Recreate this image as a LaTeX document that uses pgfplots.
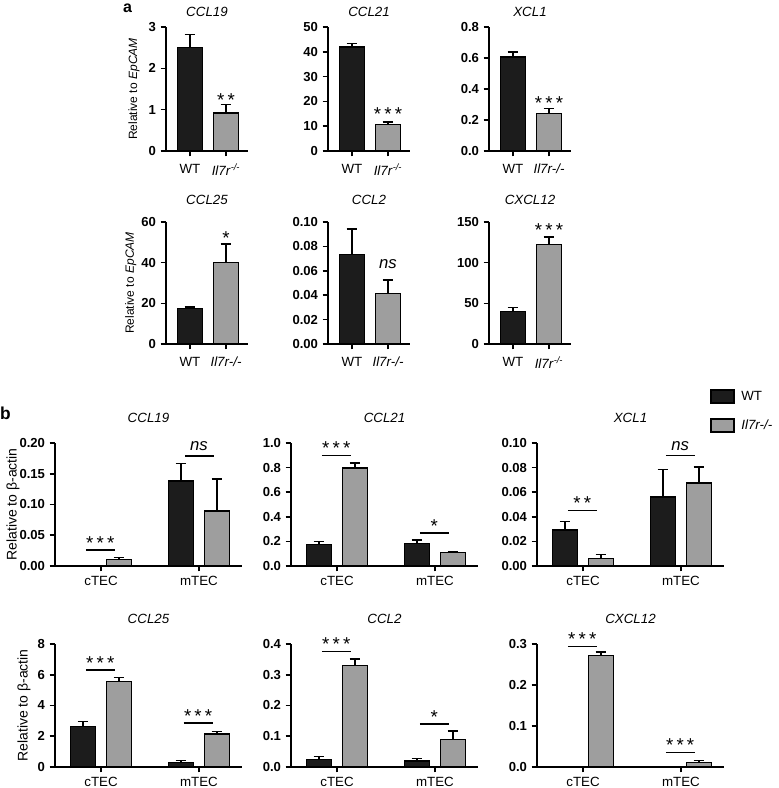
\documentclass[border=0pt]{standalone}
\usepackage{pgfplots}
\pgfplotsset{compat=1.18}
\usepackage{fontspec}
\setmainfont{Liberation Sans}
\definecolor{wtc}{RGB}{28,28,28}
\definecolor{koc}{RGB}{158,158,158}
\newcommand{\kosup}{\textit{Il7r}\textsuperscript{\textit{-/-}}}
\newcommand{\koin}{\textit{Il7r-/-}}
\newcommand{\three}{*\kern2.4pt*\kern2.4pt*}
\newcommand{\two}{*\kern2.4pt*}
\tikzset{
  wt/.style={fill=wtc, draw=black, line width=1.1pt},
  ko/.style={fill=koc, draw=black, line width=1.1pt},
  sig/.style={anchor=base, font=\fontsize{14}{14}\selectfont},
  ns/.style={anchor=base, font=\fontsize{12.5}{13}\itshape},
  sigl/.style={line width=1.1pt, black},
}
\pgfplotsset{
  base/.style={scale only axis, ymin=0, clip=false,
    axis lines*=left, axis line style={line width=1.3pt, black, -},
    tick align=outside, major tick length=4pt,
    tick style={line width=1.2pt, black},
    yticklabel style={font=\fontsize{9.8}{10}\bfseries},
    xticklabel style={font=\fontsize{10}{11}\selectfont},
    every axis title/.style={at={(0.5,1)}, anchor=center, font=\fontsize{10}{11}\itshape},
    error bars/y dir=plus, error bars/y explicit,
    error bars/error bar style={line width=1.1pt, black},
    error bars/error mark options={rotate=90, mark size=4pt, line width=1.1pt, black},
    ybar, bar width=18.75pt,
  },
  pa/.style={base, width=61.5pt, xmin=-0.667, xmax=1.611, xtick={0,1}, xticklabel style={yshift=-2.25pt}},
  pb/.style={base, width=140.25pt, height=92.25pt, xmin=-0.47, xmax=1.44, xtick={0,1}, xticklabels={cTEC,mTEC}, title style={yshift=18.75pt}},
  yla/.style={every axis y label/.style={at={(axis description cs:#1,0.5)}, rotate=90, anchor=center, font=\fontsize{9}{10}\selectfont}},
  ylb/.style={every axis y label/.style={at={(axis description cs:#1,0.5)}, rotate=90, anchor=center, font=\fontsize{10.5}{11}\selectfont}},
}
\begin{document}
\begin{tikzpicture}
\path[use as bounding box] (0,0) rectangle (583.5pt,591pt);
\node[font=\fontsize{12}{12}\bfseries, anchor=base, inner sep=0pt] at (95.6pt,581.25pt) {a};
\node[font=\fontsize{13}{13}\bfseries, anchor=base, inner sep=0pt] at (4.1pt,276pt) {b};

% ---------- panel a, row 1
\begin{axis}[pa, at={(124.5pt,477.75pt)}, anchor=south west, height=93pt,
  ymax=3, ytick={0,1,2,3}, yticklabels={0,1,2,3}, xticklabels={WT,\kosup},
  title=CCL19, title style={yshift=11.25pt}, yla=-0.39, ylabel={Relative to \textit{EpCAM}}]
\addplot[wt, bar shift=0pt] coordinates {(0,2.51) +- (0,0.31)};
\addplot[ko, bar shift=0pt] coordinates {(1,0.92) +- (0,0.21)};
\node[sig, yshift=-2pt] at (1,1.13) {\two};
\end{axis}
\begin{axis}[pa, at={(246pt,477.75pt)}, anchor=south west, height=93pt,
  ymax=50, ytick={0,10,20,30,40,50}, yticklabels={0,10,20,30,40,50}, xticklabels={WT,\kosup},
  title=CCL21, title style={yshift=11.25pt}]
\addplot[wt, bar shift=0pt] coordinates {(0,42.0) +- (0,1.4)};
\addplot[ko, bar shift=0pt] coordinates {(1,10.6) +- (0,1.1)};
\node[sig, yshift=0.75pt] at (1,11.7) {\three};
\end{axis}
\begin{axis}[pa, at={(366.75pt,477.75pt)}, anchor=south west, height=93pt,
  ymax=0.8, ytick={0,0.2,0.4,0.6,0.8}, yticklabels={0.0,0.2,0.4,0.6,0.8}, xticklabels={WT,\koin},
  title=XCL1, title style={yshift=11.25pt}]
\addplot[wt, bar shift=0pt] coordinates {(0,0.605) +- (0,0.033)};
\addplot[ko, bar shift=0pt] coordinates {(1,0.243) +- (0,0.032)};
\node[sig, yshift=-0.5pt] at (1,0.275) {\three};
\end{axis}

% ---------- panel a, row 2
\begin{axis}[pa, at={(124.5pt,333pt)}, anchor=south west, height=91.5pt,
  ymax=60, ytick={0,20,40,60}, yticklabels={0,20,40,60}, xticklabels={WT,\koin},
  title=CCL25, title style={yshift=16.9pt}, yla=-0.43, ylabel={Relative to \textit{EpCAM}}]
\addplot[wt, bar shift=0pt] coordinates {(0,17.5) +- (0,0.8)};
\addplot[ko, bar shift=0pt] coordinates {(1,40.0) +- (0,9.2)};
\node[sig, yshift=-0.3pt] at (1,49.2) {*};
\end{axis}
\begin{axis}[pa, at={(246pt,333pt)}, anchor=south west, height=91.5pt,
  ymax=0.1, ytick={0,0.02,0.04,0.06,0.08,0.1}, yticklabels={0.00,0.02,0.04,0.06,0.08,0.10}, xticklabels={WT,\koin},
  title=CCL2, title style={yshift=16.9pt}]
\addplot[wt, bar shift=0pt] coordinates {(0,0.0735) +- (0,0.0208)};
\addplot[ko, bar shift=0pt] coordinates {(1,0.0416) +- (0,0.0108)};
\node[ns, yshift=8.8pt] at (1,0.0524) {ns};
\end{axis}
\begin{axis}[pa, at={(366.75pt,333pt)}, anchor=south west, height=91.5pt,
  ymax=150, ytick={0,50,100,150}, yticklabels={0,50,100,150}, xticklabels={WT,\kosup},
  title=CXCL12, title style={yshift=16.9pt}]
\addplot[wt, bar shift=0pt] coordinates {(0,40.1) +- (0,4.5)};
\addplot[ko, bar shift=0pt] coordinates {(1,122.4) +- (0,9.3)};
\node[sig] at (1,131.7) {\three};
\end{axis}

% ---------- panel b, row 1
\begin{axis}[pb, at={(41.25pt,166.5pt)}, anchor=south west,
  ymax=0.2, ytick={0,0.05,0.1,0.15,0.2}, yticklabels={0.00,0.05,0.10,0.15,0.20},
  title=CCL19, ylb=-0.225, ylabel={Relative to β-actin}]
\addplot[wt, bar shift=-13.5pt] coordinates {(1,0.138) +- (0,0.029)};
\addplot[ko, bar shift=13.5pt] coordinates {(0,0.0108) +- (0,0.0027) (1,0.0894) +- (0,0.052)};
\draw[sigl] (-0.155,0.026) -- (0.14,0.026);
\node[sig, yshift=0.5pt] at (-0.008,0.026) {\three};
\draw[sigl] (0.86,0.179) -- (1.155,0.179);
\node[ns, yshift=4pt] at (1.0,0.179) {ns};
\end{axis}
\begin{axis}[pb, at={(218.25pt,166.5pt)}, anchor=south west,
  ymax=1, ytick={0,0.2,0.4,0.6,0.8,1}, yticklabels={0.0,0.2,0.4,0.6,0.8,1.0},
  title=CCL21]
\addplot[wt, bar shift=-13.5pt] coordinates {(0,0.176) +- (0,0.021) (1,0.184) +- (0,0.027)};
\addplot[ko, bar shift=13.5pt] coordinates {(0,0.797) +- (0,0.04) (1,0.108) +- (0,0.011)};
\draw[sigl] (-0.155,0.897) -- (0.14,0.897);
\node[sig, yshift=0.5pt] at (-0.008,0.897) {\three};
\draw[sigl] (0.845,0.27) -- (1.14,0.27);
\node[sig, yshift=0.5pt] at (0.992,0.27) {*};
\end{axis}
\begin{axis}[pb, at={(402.75pt,166.5pt)}, anchor=south west,
  ymax=0.1, ytick={0,0.02,0.04,0.06,0.08,0.1}, yticklabels={0.00,0.02,0.04,0.06,0.08,0.10},
  title=XCL1,
  legend style={at={(0.925,1.447)}, anchor=north west, draw=none, fill=none, inner sep=0pt,
    row sep=9pt, column sep=3pt, font=\fontsize{10}{11}\selectfont},
  legend cell align=left,
  legend image code/.code={\draw[#1] (0pt,-4.875pt) rectangle (17.25pt,4.875pt);}]
\addplot[wt, bar shift=-13.5pt] coordinates {(0,0.0292) +- (0,0.0068) (1,0.0562) +- (0,0.0222)};
\addplot[ko, bar shift=13.5pt] coordinates {(0,0.006) +- (0,0.0035) (1,0.0673) +- (0,0.0132)};
\addlegendentry{WT}
\addlegendentry{\koin}
\draw[sigl] (-0.155,0.0451) -- (0.14,0.0451);
\node[sig, yshift=0.5pt] at (-0.008,0.0451) {\two};
\draw[sigl] (0.845,0.0897) -- (1.14,0.0897);
\node[ns, yshift=4pt] at (0.992,0.0897) {ns};
\end{axis}

% ---------- panel b, row 2
\begin{axis}[pb, at={(41.25pt,15.75pt)}, anchor=south west,
  ymax=8, ytick={0,2,4,6,8}, yticklabels={0,2,4,6,8},
  title=CCL25, ylb=-0.166, ylabel={Relative to β-actin}]
\addplot[wt, bar shift=-13.5pt] coordinates {(0,2.65) +- (0,0.32) (1,0.3) +- (0,0.12)};
\addplot[ko, bar shift=13.5pt] coordinates {(0,5.56) +- (0,0.26) (1,2.16) +- (0,0.15)};
\draw[sigl] (-0.155,6.31) -- (0.14,6.31);
\node[sig, yshift=0.5pt] at (-0.008,6.31) {\three};
\draw[sigl] (0.845,2.85) -- (1.14,2.85);
\node[sig, yshift=0.5pt] at (0.992,2.85) {\three};
\end{axis}
\begin{axis}[pb, at={(218.25pt,15.75pt)}, anchor=south west,
  ymax=0.4, ytick={0,0.1,0.2,0.3,0.4}, yticklabels={0.0,0.1,0.2,0.3,0.4},
  title=CCL2]
\addplot[wt, bar shift=-13.5pt] coordinates {(0,0.024) +- (0,0.011) (1,0.0195) +- (0,0.0075)};
\addplot[ko, bar shift=13.5pt] coordinates {(0,0.33) +- (0,0.021) (1,0.0886) +- (0,0.029)};
\draw[sigl] (-0.155,0.376) -- (0.14,0.376);
\node[sig, yshift=0.5pt] at (-0.008,0.376) {\three};
\draw[sigl] (0.845,0.14) -- (1.14,0.14);
\node[sig, yshift=0.5pt] at (0.992,0.14) {*};
\end{axis}
\begin{axis}[pb, at={(402.75pt,15.75pt)}, anchor=south west,
  ymax=0.3, ytick={0,0.1,0.2,0.3}, yticklabels={0.0,0.1,0.2,0.3},
  title=CXCL12]
\addplot[ko, bar shift=13.5pt] coordinates {(0,0.272) +- (0,0.008) (1,0.0113) +- (0,0.0047)};
\draw[sigl] (-0.155,0.294) -- (0.14,0.294);
\node[sig, yshift=0.5pt] at (-0.008,0.294) {\three};
\draw[sigl] (0.845,0.036) -- (1.14,0.036);
\node[sig, yshift=0.5pt] at (0.992,0.036) {\three};
\end{axis}
\end{tikzpicture}
\end{document}
